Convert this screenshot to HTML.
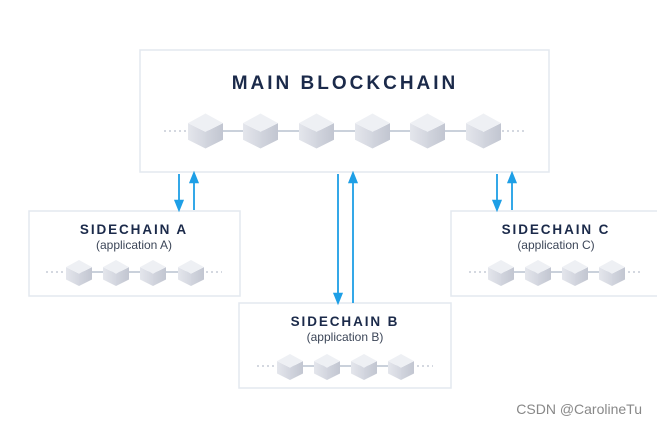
<!DOCTYPE html>
<html><head><meta charset="utf-8"><style>html,body{margin:0;padding:0;background:#fff}svg{display:block}</style></head><body>
<svg width="657" height="424" viewBox="0 0 657 424" xmlns="http://www.w3.org/2000/svg" font-family="Liberation Sans, sans-serif">
<defs>
<linearGradient id="gl" x1="0" x2="1"><stop offset="0" stop-color="#e4e6ec"/><stop offset="1" stop-color="#d3d6df"/></linearGradient>
<linearGradient id="gr" x1="0" x2="1"><stop offset="0" stop-color="#d2d5de"/><stop offset="1" stop-color="#c2c6d1"/></linearGradient>
<symbol id="cube" viewBox="-10 -10 20 20" overflow="visible">
<path d="M-10,-4.5 L0,0.5 L0,10 L-10,5 Z" fill="url(#gl)"/>
<path d="M10,-4.5 L0,0.5 L0,10 L10,5 Z" fill="url(#gr)"/>
<path d="M-10,-4.5 L0,-10 L10,-4.5 L0,0.5 Z" fill="#eef0f4"/>
</symbol>
<marker id="ah" viewBox="0 0 10 10" refX="5" refY="5" markerWidth="7" markerHeight="7" orient="auto-start-reverse"><path d="M0,1 L10,5 L0,9 Z" fill="#1e9fe6"/></marker>
</defs>
<g fill="#fff" stroke="#e3e8ef" stroke-width="1.5">
<rect x="140" y="50" width="409" height="122"/>
<rect x="29" y="211" width="211" height="85"/>
<rect x="239" y="303" width="212" height="85"/>
<rect x="451" y="211" width="210" height="85"/>
</g>
<g stroke="#1e9fe6" stroke-width="1.8">
<line x1="179" y1="174" x2="179" y2="206" marker-end="url(#ah)"/>
<line x1="194" y1="210" x2="194" y2="177" marker-end="url(#ah)"/>
<line x1="338" y1="174" x2="338" y2="299" marker-end="url(#ah)"/>
<line x1="353" y1="303" x2="353" y2="177" marker-end="url(#ah)"/>
<line x1="497" y1="174" x2="497" y2="206" marker-end="url(#ah)"/>
<line x1="512" y1="210" x2="512" y2="177" marker-end="url(#ah)"/>
</g>
<text x="345" y="89" text-anchor="middle" font-size="19" font-weight="bold" fill="#1b2a4a" letter-spacing="3">MAIN BLOCKCHAIN</text>
<g stroke="#c5cbd6" stroke-width="1.5" stroke-dasharray="2 3">
<line x1="164" y1="131" x2="187" y2="131"/><line x1="502" y1="131" x2="527" y2="131"/>
<line x1="46" y1="272" x2="64" y2="272"/><line x1="206" y1="272" x2="222" y2="272"/>
<line x1="257" y1="366" x2="275" y2="366"/><line x1="417" y1="366" x2="433" y2="366"/>
<line x1="469" y1="272" x2="487" y2="272"/><line x1="628" y1="272" x2="643" y2="272"/>
</g>
<g stroke="#b8c2cf" stroke-width="1.5">
<line x1="205" y1="131" x2="483" y2="131"/>
<line x1="79" y1="272" x2="191" y2="272"/>
<line x1="290" y1="366" x2="401" y2="366"/>
<line x1="501" y1="272" x2="612" y2="272"/>
</g>
<g>
<use href="#cube" x="188" y="111" width="35" height="40"/>
<use href="#cube" x="243" y="111" width="35" height="40"/>
<use href="#cube" x="299" y="111" width="35" height="40"/>
<use href="#cube" x="355" y="111" width="35" height="40"/>
<use href="#cube" x="410" y="111" width="35" height="40"/>
<use href="#cube" x="466" y="111" width="35" height="40"/>
<use href="#cube" x="66" y="258" width="26" height="30"/>
<use href="#cube" x="103" y="258" width="26" height="30"/>
<use href="#cube" x="140" y="258" width="26" height="30"/>
<use href="#cube" x="178" y="258" width="26" height="30"/>
<use href="#cube" x="277" y="352" width="26" height="30"/>
<use href="#cube" x="314" y="352" width="26" height="30"/>
<use href="#cube" x="351" y="352" width="26" height="30"/>
<use href="#cube" x="388" y="352" width="26" height="30"/>
<use href="#cube" x="488" y="258" width="26" height="30"/>
<use href="#cube" x="525" y="258" width="26" height="30"/>
<use href="#cube" x="562" y="258" width="26" height="30"/>
<use href="#cube" x="599" y="258" width="26" height="30"/>
</g>
<g text-anchor="middle" fill="#1b2a4a">
<text x="134" y="234" font-size="13.5" font-weight="bold" letter-spacing="1.9">SIDECHAIN A</text>
<text x="134" y="249" font-size="12" fill="#3c4658">(application A)</text>
<text x="345" y="326" font-size="13.5" font-weight="bold" letter-spacing="1.9">SIDECHAIN B</text>
<text x="345" y="341" font-size="12" fill="#3c4658">(application B)</text>
<text x="556" y="234" font-size="13.5" font-weight="bold" letter-spacing="1.9">SIDECHAIN C</text>
<text x="556" y="249" font-size="12" fill="#3c4658">(application C)</text>
</g>
<text x="642" y="414" text-anchor="end" font-size="14" fill="#888">CSDN @CarolineTu</text>
</svg>
</body></html>
